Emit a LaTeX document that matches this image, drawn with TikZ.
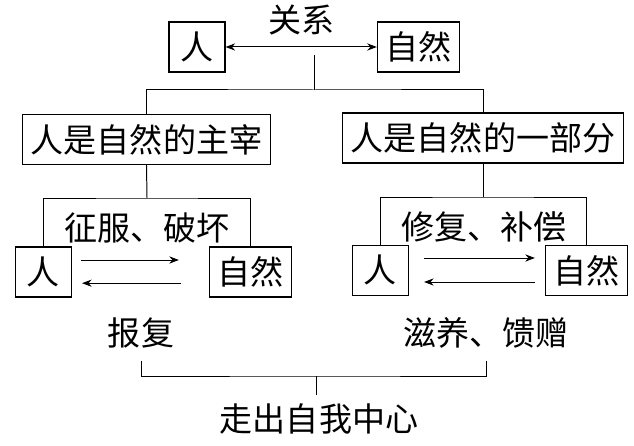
\documentclass[tikz,border=0pt]{standalone}
\usepackage{fontspec}
\newfontfamily\cjk{Noto Sans CJK SC}
\usetikzlibrary{arrows.meta}

\begin{document}
\begin{tikzpicture}[x=1cm,y=1cm,
  font=\cjk\fontsize{23.5pt}{28pt}\selectfont,
  box/.style={draw, line width=0.8pt, minimum width=1.4cm, minimum height=1.25cm, inner xsep=0.2cm, inner ysep=0pt},
  word/.style={inner sep=0pt},
  link/.style={line width=0.7pt},
  flow/.style={line width=0.7pt, -{Stealth[length=2.4mm,width=1.8mm]}}]
\useasboundingbox (0,0) rectangle (15.85,11.15);
% top
\node[box] (tm) at (4.925,9.975) {人};
\node[box] (tn) at (10.46,9.975) {自然};
\draw[flow, {Stealth[length=2.4mm,width=1.8mm]}-{Stealth[length=2.4mm,width=1.8mm]}] (tm) -- (tn) node[word, midway, above=0.28cm] (rel) {关系};
\coordinate (top) at (7.85,9.775);
\coordinate (split) at (7.85,8.9);
\node[box] (lmain) at (3.6625,7.6625) {人是自然的主宰};
\node[box] (rmain) at (12.075,7.7) {人是自然的一部分};
\draw[link] (top) -- (split);
\draw[link] (lmain.north) |- (split) -| (rmain.north);
% left
\coordinate (lsplit) at (3.675,6.2);
\node[word] (lact) at (3.675,5.45) {征服、破坏};
\node[box] (lm) at (1.0875,4.35) {人};
\node[box] (ln) at (6.2625,4.35) {自然};
\draw[link] (lmain.south) -- (lsplit);
\draw[link] (lm.north) |- (lsplit) -| (ln.north);
\draw[flow, shorten <=0.22cm, shorten >=0.75cm] ([yshift=0.3cm]lm.east) -- ([yshift=0.3cm]ln.west);
\draw[flow, shorten <=0.7cm, shorten >=0.25cm] ([yshift=-0.28cm]ln.west) -- ([yshift=-0.28cm]lm.east);
% right
\coordinate (rsplit) at (12.075,6.225);
\node[word] (ract) at (12.1,5.475) {修复、补偿};
\node[box] (rm) at (9.5125,4.39) {人};
\node[box] (rn) at (14.6625,4.39) {自然};
\draw[link] (rmain.south) -- (rsplit);
\draw[link] (rm.north) |- (rsplit) -| (rn.north);
\draw[flow, shorten <=0.375cm, shorten >=0.25cm] ([yshift=0.31cm]rm.east) -- ([yshift=0.31cm]rn.west);
\draw[flow, shorten <=0.25cm, shorten >=0.375cm] ([yshift=-0.29cm]rn.west) -- ([yshift=-0.29cm]rm.east);
% bottom
\node[word] (rev) at (3.525,2.825) {报复};
\node[word] (nour) at (12.15,2.825) {滋养、馈赠};
\node[word] (goal) at (7.975,0.675) {走出自我中心};
\coordinate (join) at (7.9,1.75);
\draw[link] ([yshift=-0.3cm]rev.south) |- (join) -| ([yshift=-0.3cm]nour.south);
\draw[link, shorten >=0.2cm] (join) -- (join |- goal.north);
\end{tikzpicture}
\end{document}
